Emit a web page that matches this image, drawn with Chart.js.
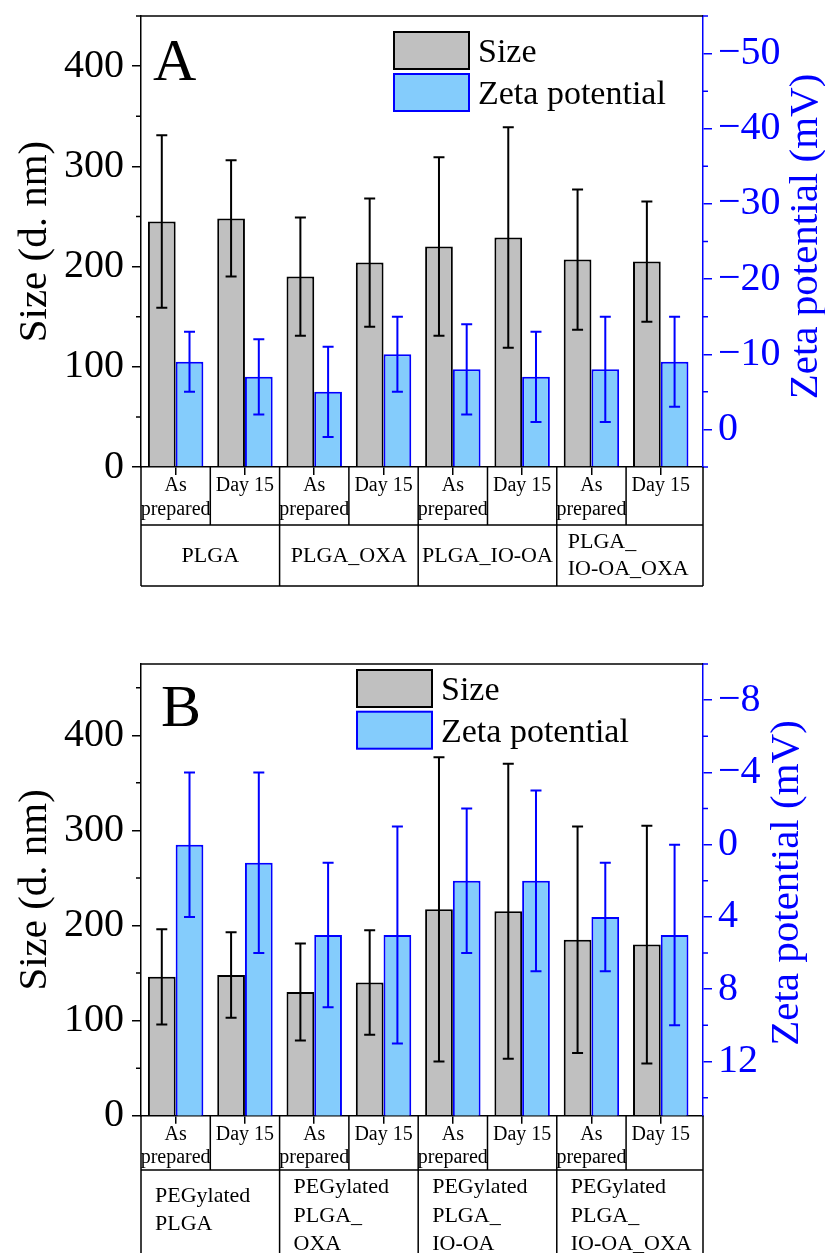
<!DOCTYPE html>
<html>
<head>
<meta charset="utf-8">
<script src="https://cdn.jsdelivr.net/npm/chart.js@4.4.1/dist/chart.umd.min.js"></script>
<style>
  html, body { margin: 0; padding: 0; background: #fff; }
  #wrap { position: relative; width: 825px; height: 1253px; overflow: hidden; background: #fff; }
  canvas { position: absolute; left: 0; }
  #chartA { top: 0; }
  #chartB { top: 625px; }
</style>
</head>
<body>
<div id="wrap">
  <canvas id="chartA" width="825" height="625"></canvas>
  <canvas id="chartB" width="825" height="628"></canvas>
</div>
<script>
//! DATA
const conditions = [['As', 'prepared'], ['Day 15'], ['As', 'prepared'], ['Day 15'],
                    ['As', 'prepared'], ['Day 15'], ['As', 'prepared'], ['Day 15']];

//* panel A
const sizeA    = [245, 248, 190, 204, 220, 229, 207, 205];
const sizeErrA = [86, 58, 59, 64, 89, 110, 70, 60];
const zetaA    = [-9, -7, -5, -10, -8, -7, -8, -9];
const zetaErrA = [4, 5, 6, 5, 6, 6, 7, 6];
const groupsA  = [['PLGA'], ['PLGA_OXA'], ['PLGA_IO-OA'], ['PLGA_', 'IO-OA_OXA']];
const sizeTicksA = [0, 100, 200, 300, 400];
const zetaTicksA = [-50, -40, -30, -20, -10, 0];

//* panel B
const sizeB    = [146, 148, 130, 140, 217, 215, 185, 180];
const sizeErrB = [50, 45, 51, 55, 160, 155, 119, 125];
const zetaB    = [0, 1, 5, 5, 2, 2, 4, 5];
const zetaErrB = [4, 5, 4, 6, 4, 5, 3, 5];
const groupsB  = [['PEGylated', 'PLGA'], ['PEGylated', 'PLGA_', 'OXA'],
                  ['PEGylated', 'PLGA_', 'IO-OA'], ['PEGylated', 'PLGA_', 'IO-OA_OXA']];
const sizeTicksB = [0, 100, 200, 300, 400];
const zetaTicksB = [-8, -4, 0, 4, 8, 12];

//! HELPERS
const serif = "'Liberation Serif', 'Times New Roman', serif";
const BLUE = '#0000ff';

function fmt(v) {
    return v < 0 ? '\u2212' + Math.abs(v) : String(v);
}

//* force axis size so the plot area lands where the original one is
function fixAxis(size) {
    return axis => {
        if (axis.isHorizontal()) axis.height = size; else axis.width = size;
        axis.paddingTop = 0; axis.paddingBottom = 0;
        axis.paddingLeft = 0; axis.paddingRight = 0;
    };
}

//! ERROR BARS
const errorBars = {
    id: 'errorBars',
    afterDatasetsDraw(chart) {
        const ctx = chart.ctx;
        chart.data.datasets.forEach((ds, i) => {
            const meta = chart.getDatasetMeta(i);
            const yScale = chart.scales[ds.yAxisID];
            ctx.save();
            ctx.strokeStyle = ds.borderColor;
            ctx.lineWidth = 2;
            meta.data.forEach((bar, j) => {
                const v = ds.data[j].y, e = ds.errors[j];
                const yTop = yScale.getPixelForValue(v + e);
                const yBot = yScale.getPixelForValue(v - e);
                ctx.beginPath();
                ctx.moveTo(bar.x, yTop); ctx.lineTo(bar.x, yBot);
                ctx.moveTo(bar.x - 5.5, yTop); ctx.lineTo(bar.x + 5.5, yTop);
                ctx.moveTo(bar.x - 5.5, yBot); ctx.lineTo(bar.x + 5.5, yBot);
                ctx.stroke();
            });
            ctx.restore();
        });
    }
};

//! FRAME, MINOR TICKS, LEGEND, TABLE
const panelDecor = {
    id: 'panelDecor',
    afterDraw(chart, args, o) {
        const { ctx, chartArea: a } = chart;
        const x = chart.scales.x;
        ctx.save();

        //* top frame
        ctx.strokeStyle = '#000';
        ctx.lineWidth = 1.5;
        ctx.beginPath();
        ctx.moveTo(a.left, a.top); ctx.lineTo(a.right, a.top);
        ctx.stroke();

        //* minor ticks
        [['y', o.sizeMajors, -1], ['y2', o.zetaMajors, 1]].forEach(([id, majors, dir]) => {
            const s = chart.scales[id];
            const edge = dir < 0 ? a.left : a.right;
            ctx.strokeStyle = s.options.border.color;
            ctx.beginPath();
            s.ticks.forEach(t => {
                if (majors.includes(t.value)) return;
                const py = s.getPixelForValue(t.value);
                ctx.moveTo(edge, py); ctx.lineTo(edge + dir * 5, py);
            });
            ctx.stroke();
        });

        //* panel letter
        ctx.fillStyle = '#000';
        ctx.font = '60px ' + serif;
        ctx.textAlign = 'left';
        ctx.textBaseline = 'alphabetic';
        ctx.fillText(o.letter, o.letterPos[0], o.letterPos[1]);

        //* right axis title (reads bottom to top)
        ctx.save();
        ctx.translate(o.rightTitle.x, o.rightTitle.y);
        ctx.rotate(-Math.PI / 2);
        ctx.fillStyle = BLUE;
        ctx.font = '41px ' + serif;
        ctx.textAlign = 'center';
        ctx.fillText('Zeta potential (mV)', 0, 0);
        ctx.restore();

        //* legend
        const L = o.legend;
        chart.data.datasets.forEach((ds, i) => {
            const by = L.y + i * L.step;
            ctx.fillStyle = ds.backgroundColor;
            ctx.fillRect(L.x, by, L.w, L.h);
            ctx.strokeStyle = ds.borderColor;
            ctx.lineWidth = 2;
            ctx.strokeRect(L.x, by, L.w, L.h);
            ctx.fillStyle = '#000';
            ctx.font = '34px ' + serif;
            ctx.textAlign = 'left';
            ctx.fillText(ds.label, L.x + L.w + 9, by + L.h / 2 + 11.5);
        });

        //* table under the x axis
        const T = o.table;
        const y0 = a.bottom, y1 = y0 + T.rows[0], y2 = y1 + T.rows[1];
        const perGroup = conditions.length / T.groups.length;
        ctx.strokeStyle = '#000';
        ctx.lineWidth = 1.5;
        ctx.beginPath();
        ctx.moveTo(a.left, y0); ctx.lineTo(a.left, y2);
        ctx.moveTo(a.right, y0); ctx.lineTo(a.right, y2);
        ctx.moveTo(a.left, y1); ctx.lineTo(a.right, y1);
        ctx.moveTo(a.left, y2); ctx.lineTo(a.right, y2);
        for (let i = 0; i < conditions.length - 1; i++) {
            const px = x.getPixelForValue(i + 0.5);
            ctx.moveTo(px, y0); ctx.lineTo(px, y1);
        }
        for (let g = 1; g < T.groups.length; g++) {
            const px = x.getPixelForValue(g * perGroup - 0.5);
            ctx.moveTo(px, y1); ctx.lineTo(px, y2);
        }
        ctx.stroke();

        ctx.fillStyle = '#000';
        ctx.font = '20px ' + serif;
        ctx.textAlign = 'center';
        conditions.forEach((lines, i) => {
            const cx = x.getPixelForValue(i);
            lines.forEach((t, k) => ctx.fillText(t, cx, y0 + 24 + k * 23.5));
        });

        ctx.font = '22px ' + serif;
        T.groups.forEach((lines, g) => {
            const left = g === 0 ? a.left : x.getPixelForValue(g * perGroup - 0.5);
            const right = g === T.groups.length - 1 ? a.right : x.getPixelForValue((g + 1) * perGroup - 0.5);
            if (lines.length === 1 && T.centerSingle) {
                ctx.textAlign = 'center';
                ctx.fillText(lines[0], (left + right) / 2, y1 + T.single);
            } else {
                ctx.textAlign = 'left';
                const first = lines.length === 2 ? T.two : T.three;
                lines.forEach((t, k) => ctx.fillText(t, left + T.pad, y1 + first + k * T.lh));
            }
        });

        ctx.restore();
    }
};

//! CHART FACTORY
function makePanel(id, p) {
    const ticksCb = majors => v => majors.includes(v) ? fmt(v) : '';
    return new Chart(document.getElementById(id), {
        type: 'bar',
        data: {
            datasets: [{
                label: 'Size',
                data: p.size.map((v, i) => ({ x: i, y: v })),
                errors: p.sizeErr,
                yAxisID: 'y',
                backgroundColor: '#c0c0c0',
                borderColor: '#000000',
                borderWidth: 2,
                categoryPercentage: 0.8,
                barPercentage: 1.0
            }, {
                label: 'Zeta potential',
                data: p.zeta.map((v, i) => ({ x: i, y: v })),
                errors: p.zetaErr,
                yAxisID: 'y2',
                base: p.zetaMax,
                backgroundColor: '#84ccfc',
                borderColor: BLUE,
                borderWidth: 2,
                categoryPercentage: 0.8,
                barPercentage: 1.0
            }]
        },
        options: {
            responsive: false,
            animation: false,
            events: [],
            layout: { padding: { top: p.top, left: 0, right: 0, bottom: 0 } },
            plugins: {
                legend: { display: false },
                tooltip: { enabled: false },
                panelDecor: {
                    letter: p.letter,
                    letterPos: p.letterPos,
                    rightTitle: p.rightTitle,
                    legend: p.legend,
                    table: p.table,
                    sizeMajors: p.sizeTicks,
                    zetaMajors: p.zetaTicks
                }
            },
            scales: {
                x: {
                    type: 'linear',
                    min: -0.5,
                    max: 7.61,
                    offset: false,
                    afterFit: fixAxis(p.xHeight),
                    //* one tick mark per condition, at its centre
                    afterBuildTicks: axis => { axis.ticks = conditions.map((c, i) => ({ value: i })); },
                    ticks: { display: false },
                    grid: { offset: false, drawOnChartArea: false, drawTicks: true, tickLength: 8, color: '#000', lineWidth: 1.5 },
                    border: { display: true, color: '#000', width: 1.5 }
                },
                y: {
                    position: 'left',
                    min: 0,
                    max: p.sizeMax,
                    afterFit: fixAxis(141),
                    title: {
                        display: true,
                        text: 'Size (d. nm)',
                        color: '#000',
                        font: { family: serif, size: 41 },
                        padding: { top: 11, bottom: 0 }
                    },
                    ticks: {
                        stepSize: 50,
                        autoSkip: false,
                        includeBounds: false,
                        padding: 8,
                        color: '#000',
                        font: { family: serif, size: 40 },
                        callback: ticksCb(p.sizeTicks)
                    },
                    grid: {
                        drawOnChartArea: false,
                        tickLength: 9,
                        lineWidth: 1.5,
                        tickColor: c => p.sizeTicks.includes(c.tick.value) ? '#000' : 'rgba(0,0,0,0)'
                    },
                    border: { color: '#000', width: 1.5 }
                },
                y2: {
                    position: 'right',
                    reverse: true,
                    min: p.zetaMin,
                    max: p.zetaMax,
                    afterFit: fixAxis(825 - 703),
                    ticks: {
                        stepSize: p.zetaStep,
                        autoSkip: false,
                        includeBounds: false,
                        padding: 6,
                        color: BLUE,
                        font: { family: serif, size: 40 },
                        callback: ticksCb(p.zetaTicks)
                    },
                    grid: {
                        drawOnChartArea: false,
                        tickLength: 9,
                        lineWidth: 1.5,
                        tickColor: c => p.zetaTicks.includes(c.tick.value) ? BLUE : 'rgba(0,0,0,0)'
                    },
                    border: { color: BLUE, width: 1.5 }
                }
            }
        },
        plugins: [errorBars, panelDecor]
    });
}

//! CREATE CHARTS
makePanel('chartA', {
    letter: 'A', letterPos: [153, 80],
    size: sizeA, sizeErr: sizeErrA, zeta: zetaA, zetaErr: zetaErrA,
    sizeMax: 450, sizeTicks: sizeTicksA,
    zetaMin: -55, zetaMax: 5, zetaStep: 5, zetaTicks: zetaTicksA,
    top: 16, xHeight: 625 - 467,
    rightTitle: { x: 817, y: 236.5 },
    legend: { x: 394, y: 32, w: 75, h: 37, step: 42 },
    table: { rows: [58, 61], groups: groupsA, centerSingle: true, single: 36.5, two: 23, three: 23, lh: 27, pad: 11 }
});

makePanel('chartB', {
    letter: 'B', letterPos: [161, 101],
    size: sizeB, sizeErr: sizeErrB, zeta: zetaB, zetaErr: zetaErrB,
    sizeMax: 475, sizeTicks: sizeTicksB,
    zetaMin: -10, zetaMax: 15, zetaStep: 2, zetaTicks: zetaTicksB,
    top: 39, xHeight: 628 - 490.7,
    rightTitle: { x: 798, y: 258 },
    legend: { x: 357, y: 45, w: 75, h: 37, step: 41.7 },
    table: { rows: [54.3, 120], groups: groupsB, centerSingle: false, single: 36, two: 31.5, three: 23, lh: 28.5, pad: 14 }
});
</script>
</body>
</html>
